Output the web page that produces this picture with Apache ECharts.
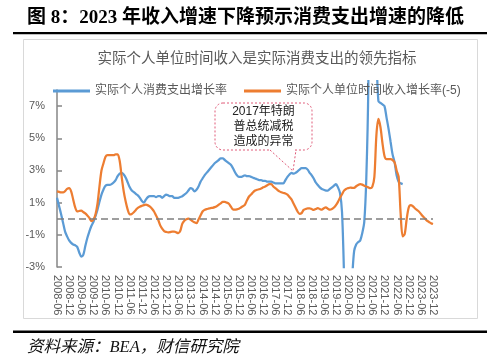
<!DOCTYPE html>
<html><head><meta charset="utf-8">
<script src="https://cdn.jsdelivr.net/npm/echarts@6/dist/echarts.min.js"></script>
<style>html,body{margin:0;padding:0;background:#fff}#c{width:500px;height:361px}</style>
</head><body><div id="c"></div>
<script>
// monthly categories 2008-06 .. 2023-12
const months = [];
for (let y = 2008; y <= 2023; y++) for (let mo = 1; mo <= 12; mo++) {
  if (y === 2008 && mo < 6) continue;
  months.push(y + '-' + String(mo).padStart(2, '0'));
}
const yTickValues = [-3, -1, 1, 3, 5, 7];
const seriesNames = ['实际个人消费支出增长率', '实际个人单位时间收入增长率(-5)'];
// real PCE growth, % (2008-06 .. 2022-09)
const pce = [
1.3,0.8,0.3,-0.25,-0.8,-1.1,-1.35,-1.5,-1.6,-1.65,
-1.75,-2.1,-2.35,-2.25,-1.7,-1.2,-0.8,-0.45,-0.2,0.15,
0.55,1.05,1.5,1.82,2.05,2.1,2.1,2.15,2.25,2.4,
2.65,2.8,2.85,2.75,2.55,2.25,1.95,1.75,1.65,1.55,
1.45,1.3,1.1,1.0,1.2,1.35,1.4,1.4,1.4,1.35,
1.4,1.4,1.3,1.4,1.5,1.45,1.4,1.4,1.3,1.3,
1.3,1.35,1.4,1.5,1.6,1.75,1.9,1.85,1.7,1.8,
2.0,2.3,2.5,2.7,2.85,3.0,3.15,3.3,3.45,3.55,
3.65,3.75,3.75,3.65,3.55,3.45,3.35,3.15,2.9,2.7,
2.6,2.6,2.65,2.7,2.65,2.65,2.6,2.55,2.5,2.45,
2.4,2.4,2.35,2.35,2.3,2.3,2.3,2.25,2.2,2.2,
2.2,2.2,2.2,2.4,2.6,2.75,2.85,2.8,2.85,2.95,
3.05,3.15,3.15,3.15,3.05,2.85,2.7,2.5,2.25,2.1,
1.95,1.85,1.8,1.75,1.75,1.85,1.95,2.05,2.15,1.95,
1.6,0.4,-3.6,-10,-7,-5,-3.6,-2.0,-1.6,-1.45,
-1.35,-0.9,-0.2,2.5,8.2,25,17,12,10,7.3,
7.2,7.1,7.0,6.3,5.6,4.8,4.0,3.5,2.7,2.3,
2.2,2.15
];
// real income per hour growth (-5), % (2008-06 .. 2023-12)
const income = [
1.7,1.67,1.63,1.63,1.72,1.85,1.9,1.7,1.2,0.7,
0.45,0.48,0.5,0.42,0.33,0.2,0.05,-0.15,-0.05,0.25,
0.9,2.0,3.0,3.45,3.85,3.95,3.95,3.95,3.95,4.0,
4.0,3.6,2.6,1.7,1.05,0.55,0.27,0.3,0.4,0.55,
0.68,0.75,0.8,0.85,0.87,0.83,0.75,0.62,0.45,0.2,
-0.05,-0.4,-0.62,-0.77,-0.82,-0.85,-0.83,-0.8,-0.8,-0.85,
-0.89,-0.75,-0.3,-0.12,-0.03,0.0,-0.05,-0.15,-0.22,-0.28,
-0.05,0.2,0.45,0.55,0.6,0.63,0.66,0.68,0.72,0.78,
0.87,0.95,1.05,1.05,1.0,0.93,0.75,0.58,0.56,0.58,
0.62,0.7,0.78,0.88,1.15,1.38,1.5,1.65,1.75,1.8,
1.83,1.88,1.95,2.0,2.08,2.15,2.15,2.0,1.9,1.8,
1.7,1.65,1.6,1.57,1.5,1.35,1.2,0.95,0.7,0.45,
0.3,0.35,0.55,0.6,0.65,0.65,0.6,0.55,0.6,0.66,
0.6,0.56,0.65,0.7,0.62,0.56,0.6,0.7,0.85,1.05,
1.3,1.52,1.75,1.85,1.9,1.94,1.92,1.92,2.02,2.1,
2.15,2.12,2.05,2.0,1.95,1.9,2.0,2.6,5.2,6.2,
5.7,4.7,3.9,3.7,3.7,3.7,3.65,3.5,3.0,2.6,
0.3,-1.1,-0.95,0.0,0.7,0.85,0.78,0.65,0.55,0.45,
0.3,0.15,0.02,-0.12,-0.2,-0.28,-0.33
];

const FONT = "'Liberation Sans','Noto Sans CJK SC',sans-serif";
const GRAY = '#595959';
const chart = echarts.init(document.getElementById('c'));
const gridBase = { left: 57, right: 67, bottom: 94 };
chart.setOption({
  animation: false,
  backgroundColor: '#fff',
  textStyle: { fontFamily: FONT },
  grid: [
    Object.assign({ top: 90 }, gridBase),
    Object.assign({ top: 81 }, gridBase)
  ],
  legend: {
    data: seriesNames,
    left: 48, top: 80, itemGap: 17,
    icon: 'rect', itemWidth: 37, itemHeight: 3,
    textStyle: { color: GRAY, fontSize: 12, fontFamily: FONT }
  },
  xAxis: [{
    gridIndex: 0, type: 'category', data: months, boundaryGap: false,
    axisLine: { show: false }, axisTick: { show: false },
    axisLabel: { interval: 5, rotate: -90, color: GRAY, fontSize: 11, margin: 8, fontFamily: FONT }
  }, {
    gridIndex: 1, type: 'category', data: months, boundaryGap: false, show: false
  }],
  yAxis: [{
    gridIndex: 0, type: 'value', min: -3, max: 8,
    splitLine: { show: false },
    axisLine: { show: true, lineStyle: { color: '#868686', width: 1.5 } },
    axisTick: { show: true, inside: true, length: 5, customValues: yTickValues, lineStyle: { color: '#868686', width: 1.5 } },
    axisLabel: { customValues: yTickValues, formatter: v => v + '%', color: GRAY, fontSize: 11, margin: 12, fontFamily: FONT }
  }, {
    gridIndex: 1, type: 'value', min: -3, max: 8 + 9 / (177 / 11), show: false, splitLine: { show: false }
  }],
  series: [{
    name: seriesNames[0], type: 'line', xAxisIndex: 1, yAxisIndex: 1,
    data: pce, showSymbol: false, smooth: 0.3, clip: true,
    lineStyle: { color: '#5B9BD5', width: 2.25 }, itemStyle: { color: '#5B9BD5' }
  }, {
    name: seriesNames[1], type: 'line', xAxisIndex: 0, yAxisIndex: 0,
    data: income, showSymbol: false, smooth: 0.3,
    lineStyle: { color: '#ED7D31', width: 2.25 }, itemStyle: { color: '#ED7D31' },
    markLine: {
      silent: true, symbol: 'none', label: { show: false },
      lineStyle: { color: '#7f7f7f', type: [7, 4], width: 1.5 },
      data: [{ yAxis: 0 }]
    }
  }],
  graphic: [
    { type: 'text', x: 27, y: 18, style: { text: '图 8：2023 年收入增速下降预示消费支出增速的降低', fill: '#000', font: "bold 19px 'Liberation Serif','Noto Sans CJK SC',serif", textVerticalAlign: 'middle' } },
    { type: 'rect', shape: { x: 13, y: 32, width: 474, height: 2.3 }, style: { fill: '#000' } },
    { type: 'rect', shape: { x: 23.5, y: 39.5, width: 454, height: 279 }, style: { fill: 'none', stroke: '#d9d9d9', lineWidth: 1 }, z: -1 },
    { type: 'text', x: 257, y: 57, style: { text: '实际个人单位时间收入是实际消费支出的领先指标', fill: GRAY, font: "14.5px 'Noto Sans CJK SC',sans-serif", textAlign: 'center', textVerticalAlign: 'middle' } },
    { type: 'rect', shape: { x: 215, y: 103, width: 97, height: 47, r: 8 }, style: { fill: 'none', stroke: '#e05a78', lineWidth: 1, lineDash: [2, 2] } },
    { type: 'line', shape: { x1: 271, y1: 150, x2: 295, y2: 150 }, style: { stroke: '#fff', lineWidth: 2 } },
    { type: 'polyline', shape: { points: [[270, 150], [293, 171], [296, 150]] }, style: { fill: 'none', stroke: '#e05a78', lineWidth: 1, lineDash: [2, 2] } },
    { type: 'text', x: 263.5, y: 127, style: { text: '2017年特朗\n普总统减税\n造成的异常', fill: '#222', font: "12px 'Liberation Sans','Noto Sans CJK SC',sans-serif", textAlign: 'center', textVerticalAlign: 'middle', lineHeight: 15 } },
    { type: 'rect', shape: { x: 13, y: 330.5, width: 474, height: 2.5 }, style: { fill: '#000' } },
    { type: 'text', x: 27, y: 348, style: { text: '资料来源：BEA，财信研究院', fill: '#111', font: "italic 16.5px 'Liberation Serif','Noto Sans CJK SC',serif", textVerticalAlign: 'middle' } }
  ]
});
</script></body></html>
